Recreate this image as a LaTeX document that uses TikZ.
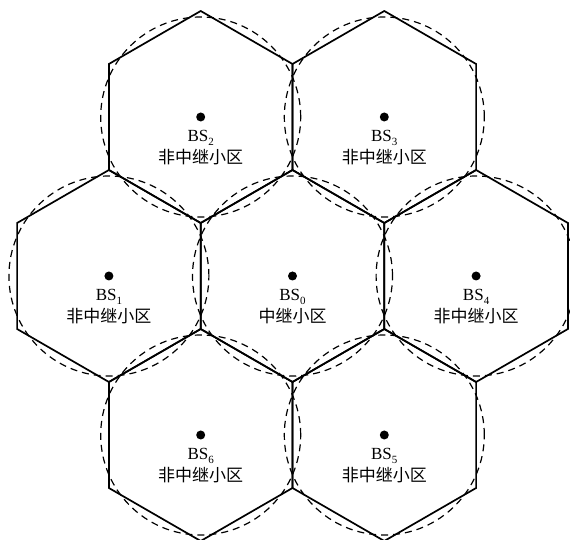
\documentclass[tikz,border=0pt]{standalone}
\usepackage{fontspec}
\setmainfont{Liberation Serif}
\newfontfamily\cjkfont{Noto Sans CJK SC}
\usetikzlibrary{positioning}

\newcommand{\bsname}[1]{BS\raisebox{-0.4ex}{\fontsize{11}{11}\selectfont #1}}

\begin{document}
\begin{tikzpicture}[x=1pt, y=1pt,
    cell/.style={line width=1.7pt, line join=miter},
    cover/.style={line width=1.2pt, dash pattern=on 7pt off 5pt},
    bs/.style={circle, fill=black, inner sep=0pt, minimum size=9pt},
    bslabel/.style={font=\fontsize{17}{17}\selectfont, anchor=base, inner sep=0pt},
    cjklabel/.style={font=\fontsize{17}{17}\selectfont\cjkfont, anchor=base, inner sep=0pt}]
    \useasboundingbox (0,0) rectangle (570,540);

    % Draw hexagonal cells and their dashed coverage circles
    \foreach \id/\x/\y in {0/292.5/264, 1/108.9/264, 2/200.7/423, 3/384.3/423,
                           4/476.1/264, 5/384.3/105, 6/200.7/105} {
        \coordinate (c\id) at (\x,\y);
        \draw[cell] (c\id) +(90:106) -- +(150:106) -- +(210:106) -- +(270:106)
            -- +(330:106) -- +(30:106) -- cycle;
        \draw[cover] (c\id) circle (100);
    }

    % Base stations and cell labels
    \foreach \id/\kind in {0/中继小区, 1/非中继小区, 2/非中继小区, 3/非中继小区,
                           4/非中继小区, 5/非中继小区, 6/非中继小区} {
        \node[bs] (bs\id) at (c\id) {};
        \node[bslabel] (bs\id-name) at ([yshift=-25] bs\id.center) {\bsname{\id}};
        \node[cjklabel] (bs\id-kind) at ([yshift=-47] bs\id.center) {\kind};
    }
\end{tikzpicture}
\end{document}
